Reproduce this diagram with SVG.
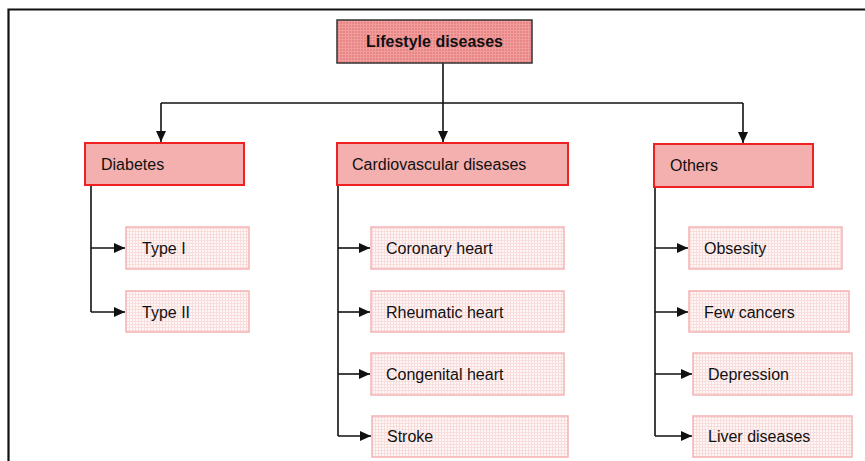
<svg xmlns="http://www.w3.org/2000/svg" width="865" height="461" viewBox="0 0 865 461">
<style>
  .lbl{font-family:"Liberation Sans","Open Sans",Arial,sans-serif;font-size:16px;fill:#111;}
  .root-t{font-family:"Liberation Sans","Open Sans",Arial,sans-serif;font-size:16px;font-weight:bold;fill:#111;}
  .cat{fill:#f4b0ae;stroke:#ee2222;stroke-width:2;}
  .leaf{fill:url(#gridLeaf);stroke:#f4b4b4;stroke-width:1.5;}
  .root{fill:url(#gridRoot);stroke:#333;stroke-width:1.5;}
  .conn{fill:none;stroke:#111;stroke-width:1.6;}
</style>
<defs>
  <pattern id="gridLeaf" width="3" height="3" patternUnits="userSpaceOnUse">
    <rect width="3" height="3" fill="#fff6f6"/>
    <path d="M0 0.5H3M0.5 0V3" stroke="#f9dcdc" stroke-width="1"/>
  </pattern>
  <pattern id="gridRoot" width="3" height="3" patternUnits="userSpaceOnUse">
    <rect width="3" height="3" fill="#e98585"/>
    <path d="M0 0.5H3M0.5 0V3" stroke="#ef9d9d" stroke-width="1"/>
  </pattern>
  <marker id="arr" markerUnits="userSpaceOnUse" markerWidth="11" markerHeight="11" viewBox="0 0 11 11" refX="11" refY="5.5" orient="auto">
    <path d="M0 0.5L11 5.5L0 10.5Z" fill="#111"/>
  </marker>
</defs>
<rect width="865" height="461" fill="#fff"/>
<path d="M8.5 461V9.5H865" fill="none" stroke="#111" stroke-width="2.2"/>

<g id="connectors">
  <path class="conn" d="M443 63V103"/>
  <path class="conn" d="M161 103H743"/>
  <path class="conn" d="M161 103V142" marker-end="url(#arr)"/>
  <path class="conn" d="M443 103V142" marker-end="url(#arr)"/>
  <path class="conn" d="M743 103V143" marker-end="url(#arr)"/>
  <path class="conn" d="M91 185V312"/>
  <path class="conn" d="M91 248H125" marker-end="url(#arr)"/>
  <path class="conn" d="M91 312H125" marker-end="url(#arr)"/>
  <path class="conn" d="M338 185V436"/>
  <path class="conn" d="M338 248H370" marker-end="url(#arr)"/>
  <path class="conn" d="M338 312H370" marker-end="url(#arr)"/>
  <path class="conn" d="M338 374H370" marker-end="url(#arr)"/>
  <path class="conn" d="M338 436H371" marker-end="url(#arr)"/>
  <path class="conn" d="M655 187V436"/>
  <path class="conn" d="M655 248H688" marker-end="url(#arr)"/>
  <path class="conn" d="M655 312H688" marker-end="url(#arr)"/>
  <path class="conn" d="M655 374H692" marker-end="url(#arr)"/>
  <path class="conn" d="M655 436H692" marker-end="url(#arr)"/>
</g>

<g id="lifestyle">
  <rect class="root" x="337" y="20" width="195" height="43"/>
  <text class="root-t" x="434.5" y="47" text-anchor="middle">Lifestyle diseases</text>
</g>

<g id="diabetes">
  <rect class="cat" x="85" y="143" width="159" height="42"/>
  <text class="lbl" x="101" y="170">Diabetes</text>
</g>
<g id="cardiovascular">
  <rect class="cat" x="337" y="143" width="231" height="42"/>
  <text class="lbl" x="352" y="170">Cardiovascular diseases</text>
</g>
<g id="others">
  <rect class="cat" x="654" y="144" width="159" height="43"/>
  <text class="lbl" x="670" y="171">Others</text>
</g>

<g id="type1">
  <rect class="leaf" x="126" y="227" width="123" height="42"/>
  <text class="lbl" x="142" y="254">Type I</text>
</g>
<g id="type2">
  <rect class="leaf" x="126" y="291" width="123" height="41"/>
  <text class="lbl" x="142" y="318">Type II</text>
</g>

<g id="coronary">
  <rect class="leaf" x="371" y="227" width="193" height="42"/>
  <text class="lbl" x="386" y="254">Coronary heart</text>
</g>
<g id="rheumatic">
  <rect class="leaf" x="371" y="291" width="193" height="41"/>
  <text class="lbl" x="386" y="318">Rheumatic heart</text>
</g>
<g id="congenital">
  <rect class="leaf" x="371" y="353" width="193" height="42"/>
  <text class="lbl" x="386" y="380">Congenital heart</text>
</g>
<g id="stroke">
  <rect class="leaf" x="372" y="416" width="196" height="41"/>
  <text class="lbl" x="387" y="442">Stroke</text>
</g>

<g id="obsesity">
  <rect class="leaf" x="689" y="227" width="153" height="42"/>
  <text class="lbl" x="704" y="254">Obsesity</text>
</g>
<g id="fewcancers">
  <rect class="leaf" x="689" y="291" width="160" height="41"/>
  <text class="lbl" x="704" y="318">Few cancers</text>
</g>
<g id="depression">
  <rect class="leaf" x="693" y="353" width="159" height="42"/>
  <text class="lbl" x="708" y="380">Depression</text>
</g>
<g id="liver">
  <rect class="leaf" x="693" y="416" width="159" height="41"/>
  <text class="lbl" x="708" y="442">Liver diseases</text>
</g>
</svg>
